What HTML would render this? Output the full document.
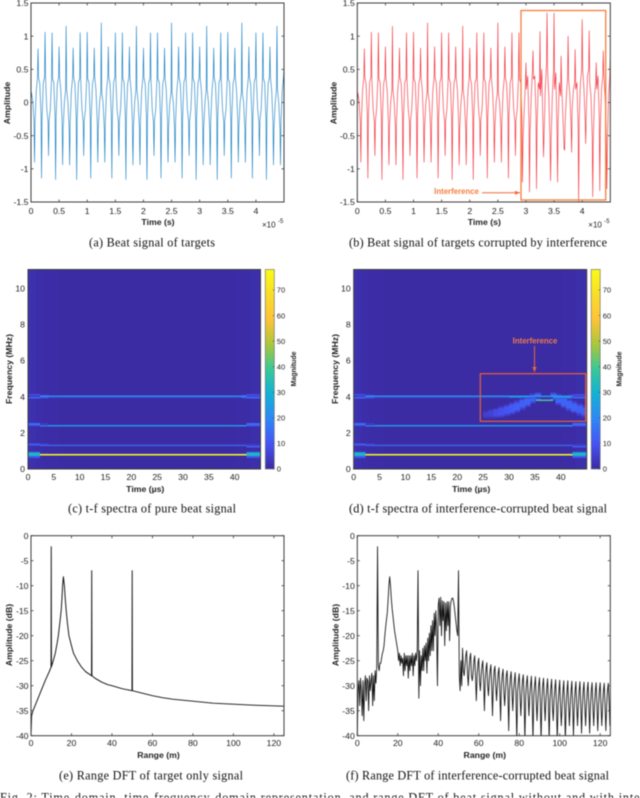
<!DOCTYPE html>
<html lang="en">
<head>
<meta charset="utf-8">
<title>Beat signal figure</title>
<style>
html,body{margin:0;padding:0;background:#fff;width:640px;height:798px;overflow:hidden}
svg{display:block;filter:blur(0.45px)}
text{font-family:"Liberation Sans",sans-serif;fill:#222}
text.cap{font-family:"Liberation Serif",serif;fill:#111}
</style>
</head>
<body>
<svg id="figure" width="640" height="798" viewBox="0 0 640 798" xmlns="http://www.w3.org/2000/svg"></svg>
<script>
// ---------- chart data ----------
const signalHalfPeriodSeconds = 0.625e-6;
const halfPeriodSampleFractions = [0,.14,.5,.86];
const cleanSignal = [
0,.15,.02,-.3,-.9,-.3,.18,.38,
.81,.38,.28,-.2,-1.14,-.25,.3,.38,
1.06,.36,-.1,-.3,-.8,-.28,-.1,.36,
1.05,.36,.3,-.25,-1.16,-.22,.28,.38,
.84,.38,.18,-.3,-.94,-.4,0,.2,
1.15,.2,0,-.4,-.94,-.3,.18,.38,
.82,.38,.28,-.22,-1.16,-.25,.3,.36,
1.05,.36,-.1,-.3,-.8,-.28,-.1,.36,
1.06,.36,.3,-.25,-1.14,-.22,.28,.38,
.82,.38,.18,-.3,-.9,-.4,0,.15,
1.2,.15,0,-.4,-.9,-.3,.18,.38,
.84,.38,.28,-.2,-1.14,-.25,.3,.38,
1.05,.36,-.1,-.3,-.8,-.28,-.1,.36,
1.05,.36,.3,-.25,-1.16,-.22,.28,.38,
.84,.38,.18,-.3,-.94,-.4,0,.2,
1.15,.2,0,-.4,-.94,-.3,.18,.38,
.82,.38,.28,-.22,-1.16,-.25,.3,.36,
1.05,.36,-.1,-.3,-.8,-.28,-.1,.36,
1.05,.36,.3,-.25,-1.14,-.22,.28,.38,
.82,.38,.18,-.3,-.9,-.4,0,.15,
1.2,.15,0,-.4,-.9,-.3,.18,.38,
.84,.38,.28,-.2,-1.14,-.25,.3,.38,
1.05,.36,-.1,-.3,-.8,-.28,-.1,.36,
1.05,.36,.3,-.25,-1.16,-.22,.28,.38,
.84,.38,.18,-.3,-.94,-.4,0,.2,
1.15,.2,0,-.4,-.94,-.3,.18,.38,
.82,.38,.28,-.22,-1.16,-.25,.3,.36,
1.05,.36,-.1,-.3,-.8,-.28,-.1,.36,
1.06,.36,.3,-.25,-1.14,-.22,.28,.38,
.82,.38,.18,-.3,-.9,-.4,0,.15,
1.2,.15,0,-.4,-.9,-.3,.18,.38,
.84,.38,.28,-.2,-1.14,-.25,.3,.38,
1.05,.36,-.1,-.3,-.8,-.28,-.1,.36,
1.05,.36,.3,-.25,-1.16,-.22,.28,.38,
.84,.38,.18,-.3,-.94,-.4,0,.2,
1.15,.2,0,-.4,-.94,-.3,.18,.38,
.6];
const cleanHeadForCorrupted = cleanSignal.slice(0,188);
const interferenceTail = [
-1.2,-.6,-.1,.3,.6,.2,.4,-.3,
-1.35,-.5,.1,.5,.78,.35,.4,-.2,
-1.3,-.4,.3,.2,1.07,.1,.5,-.4,
-.82,-.5,.2,.6,1.35,.5,.1,-.6,
-1.18,-.6,.1,.5,1.35,.2,.45,-.5,
-1.2,-.3,.3,.1,.7,.3,-.2,-.7,
-.72,-.3,.1,.4,1.0,.35,.1,-.4,
-.75,-.1,.2,.3,.8,.2,.3,-.4,
-1.5,-.3,.3,.5,1.25,.5,.2,-.3,
-.62,-.2,.4,.5,1.08,.3,.1,-.5,
-1.42,-.6,.1,.3,.6,.2,.4,-.2,
-1.33,-.4,.2,.4,.78,.45,.1,-.5,
-1.3,-.7,.1,.4,.7];
const amplitudeTicks = [-1.5,-1,-.5,0,.5,1,1.5];
const amplitudeTickLabels = ['-1.5','-1','-0.5','0','0.5','1','1.5'];
const timeTicks = [0,.5,1,1.5,2,2.5,3,3.5,4];
const timeTickLabels = ['0','0.5','1','1.5','2','2.5','3','3.5','4'];

const spectTimeTicks = [0,5,10,15,20,25,30,35,40];
const spectFreqTicks = [0,2,4,6,8,10];
const colorbarTicks = [0,10,20,30,40,50,60,70];
const backgroundTimes = [0,.6,1.5,3,6,40,43,45];
const backgroundMags = [2,1.4,.9,.6,.4,.6,1.2];
const ridgeTimeEdges = [0,2.3,4,41.3,42.3,45];
const ridgeFreqLow  = [.62,.72,.76,.84,.92,1.18,1.26,1.34,2.34,2.42,3.9,3.98,4.06];
const ridgeFreqHigh = [.72,.76,.84,.92,.98,1.26,1.34,1.42,2.44,2.54,3.98,4.06,4.14];
const ridgeMagsPure = [
[10,1,1,1,10],[32,1,1,1,32],[32,78,78,78,32],[32,3,2,3,32],[8,1,1,1,8],
[1,1,1,1,12],[6,14,16,16,5],[12,6,2,2,3],
[4,22,22,22,8],[14,4,1,1,14],
[14,8,3,8,14],[4,22,22,22,6],[8,3,1,3,8]];
const chirpTimes = [25,26,27,28,29,30,31,32,33,34,35,38,39,40,41,42,43,44];
const chirpFreqs = [3.02,3.06,3.1,3.17,3.25,3.35,3.45,3.6,3.75,3.9,4.0,4.0,3.85,3.7,3.55,3.42,3.3,3.2];
const chirpMags  = [5,6,8,9,10,11,12,12,13,13,14,14,13,13,13,13,12,12];
const chirpWidths= [.2,.24,.26,.28,.3,.3,.3,.3,.3,.25,.2,.2,.28,.3,.3,.3,.3,.3];
const chirpLineTimes = [30,34,35.2,38.5,42];
const chirpLineFreqs = [4.0,3.94,3.8,3.96];
const chirpLineMags  = [24,8,40,24];

const rangeTicks = [0,20,40,60,80,100,120];
const dbTicks = [0,-5,-10,-15,-20,-25,-30,-35,-40];
const targetRanges = [0,.3,1,2,3,5,7,9,9.9,10,10.1,11,12,13,13.5,14,14.5,14.9,15.3,15.6,16,16.5,16.9,17.4,18,18.75,20,21,22.9,25,27,29.9,30,30.1,32,35,38,40,45,49.9,50,50.1,55,60,65,70,80,90,100,110,125];
const targetDb = [-40,-36,-35,-34,-33,-31,-29,-27.2,-26.3,-2.2,-26.2,-25,-23.5,-21.3,-20,-18.3,-16.5,-15,-12.5,-10,-8.2,-10,-12.5,-15,-17.5,-20,-22,-23.5,-25,-26.3,-27.2,-28,-7,-28,-28.6,-29.3,-29.8,-30,-30.6,-31,-7,-31,-31.5,-32,-32.4,-32.7,-33.1,-33.5,-33.7,-33.9,-34.1];
const corruptedRangeStep = 0.4;
const corruptedDb = [
-40,-31,-29,-34,-28.5,-31,-36,-29,-37,-30,-28,-33,-28.5,-29,-35,-28,-31,-29,-27.5,-34,-28,-33,-27,-29.5,-26.5,
-2.2,
-26,-27,-25.5,-25.5,-24.5,-23.5,-23,-22,-20,-18.3,-16.8,-15.5,-13,-10,
-8.2,
-10,-12.5,-14.5,-16,-17.5,-19,-20,-21,-22,-23,-25,-23.5,-26,-24,-25.5,-24.5,-28,-23.5,-27,-24,-26,-24,-28.5,-24,-27,-24,-26,-23.5,-28,-24,-26,-23.5,-25,-23,
-7,
-32.5,-23,-30,-24,-27,-22.5,-27,-22,-25,-21.5,-27.5,-20.5,-25,-19.5,-24,-18,-23,-17,-23,-15.5,-20,-15,-19,-30,-14,-12.5,-18,-12.3,-20,-13,-17,-13.2,-22,-13.5,-19,-13.2,-18,-13.2,-21,-14,-13,-12.5,-12.5,-13.2,-14.5,-16,-17.5,-19,-20,
-7,
-28,-31,-25,-30,
-22.5,-27,-28,-26,-24,
-23,-27,-30,-27,-24.5,
-23.5,-28,-29,-27.5,-25,
-24,-28,-33,-28,-25.5,
-24.5,-29,-31,-28,-26,
-25,-29,-35,-29,-26.5,
-25.4,-30,-32,-29,-27,
-25.8,-30,-36,-30,-27,
-26.1,-30,-33,-30,-27.5,
-26.4,-31,-37,-30,-28,
-26.7,-31,-34,-31,-28,
-27,-31,-39,-31,-28.5,
-27.2,-31,-35,-31,-29,
-27.4,-32,-41,-31,-29,
-27.6,-32,-36,-32,-29,
-27.8,-32,-41,-32,-29.5,
-28,-32,-36,-32,-30,
-28.1,-33,-41,-32,-30,
-28.2,-33,-37,-33,-30,
-28.4,-33,-41,-33,-30,
-28.5,-33,-37,-33,-30.5,
-28.6,-33,-41,-33,-30.5,
-28.7,-34,-37,-33,-30.5,
-28.8,-34,-41,-34,-31,
-28.9,-34,-38,-34,-31,
-29,-34,-41,-34,-31,
-29,-34,-38,-34,-31,
-29.1,-34,-40,-34,-31,
-29.2,-34,-38,-34,-31,
-29.2,-34,-39.5,-34,-31,
-29.3,-34,-38,-34,-31,
-29.3,-34,-39.5,-34,-31,
-29.4,-34,-38,-34,-31,
-29.4,-34,-39,-34,-31,
-29.4,-34,-38,-34,-31,
-29.5,-34,-39,-34,-31,
-29.5,-33,-38,-29.5];

const parulaStops = ['#3B2AA0','#4752F4','#2D87F7','#12B1D6','#37C897','#ABC739','#FEC338','#F9DD28','#F9FB15'];
const colorMax = 78;

// ---------- helpers ----------
const root = document.getElementById('figure');
const NS = 'http://www.w3.org/2000/svg';
function add(parent, tag, attrs, name){
  const el = document.createElementNS(NS, tag);
  for(const k in attrs) el.setAttribute(k, attrs[k]);
  
  
  parent.appendChild(el);
  return el;
}
function label(parent, x, y, str, name, o){
  o = o || {};
  const size = o.size || 8.7;
  const a = {x:x, y:y + size*0.36, 'font-size':size, 'text-anchor':o.anchor||'middle'};
  if(o.weight) a['font-weight'] = o.weight;
  if(o.fill) a.style = 'fill:'+o.fill;
  if(o.rotate){ a.y = y; a.transform = 'rotate(-90 '+x+' '+y+')'; a.dy = size*0.36; }
  const t = add(parent, 'text', a, name);
  t.textContent = str;
  return t;
}
function caption(x, y, width, str, name){
  const t = add(root, 'text', {class:'cap', x:x, y:y, 'font-size':12.2, textLength:width, lengthAdjust:'spacing'}, name);
  t.textContent = str;
}
function hex(c){ return [1,3,5].map(function(i){return parseInt(c.substr(i,2),16);}); }
function parula(v){
  const f = Math.max(0, Math.min(1, v/colorMax)) * (parulaStops.length-1);
  const i = Math.min(parulaStops.length-2, Math.floor(f));
  const a = hex(parulaStops[i]), b = hex(parulaStops[i+1]), t = f-i;
  return 'rgb('+a.map(function(c,j){return Math.round(c+(b[j]-c)*t);}).join(',')+')';
}
function makePanel(id, box, xlim, ylim){
  const g = add(root, 'g', {}, id);
  const sx = function(v){ return box.x + (v-xlim[0])/(xlim[1]-xlim[0])*box.w; };
  const sy = function(v){ return box.y + box.h - (v-ylim[0])/(ylim[1]-ylim[0])*box.h; };
  const clip = add(g, 'clipPath', {id:'clip-'+id}, id+'-clip');
  add(clip, 'rect', {x:box.x, y:box.y, width:box.w, height:box.h}, id+'-clip-rect');
  return {g:g, sx:sx, sy:sy, box:box, id:id};
}
function frame(p, xticks, xlabels, yticks, ylabels, xTickY, yTickX, tickSize, opposite){
  const b = p.box, g = p.g;
  add(g, 'rect', {x:b.x, y:b.y, width:b.w, height:b.h, fill:'none', stroke:'#3c3c3c', 'stroke-width':1}, 'plot-frame');
  xticks.forEach(function(v,i){
    add(g, 'line', {x1:p.sx(v), x2:p.sx(v), y1:b.y+b.h, y2:b.y+b.h-tickSize, stroke:'#3c3c3c', 'stroke-width':.8}, 'x-tick');
    if(opposite) add(g, 'line', {x1:p.sx(v), x2:p.sx(v), y1:b.y, y2:b.y+tickSize, stroke:'#3c3c3c', 'stroke-width':.8}, 'x-tick-top');
    label(g, p.sx(v), xTickY, xlabels[i], 'x-tick-label');
  });
  yticks.forEach(function(v,i){
    add(g, 'line', {x1:b.x, x2:b.x+tickSize, y1:p.sy(v), y2:p.sy(v), stroke:'#3c3c3c', 'stroke-width':.8}, 'y-tick');
    if(opposite) add(g, 'line', {x1:b.x+b.w, x2:b.x+b.w-tickSize, y1:p.sy(v), y2:p.sy(v), stroke:'#3c3c3c', 'stroke-width':.8}, 'y-tick-right');
    label(g, yTickX, p.sy(v), ylabels[i], 'y-tick-label', {anchor:'end'});
  });
}
function polyline(p, xs, ys, color, width, name){
  const pts = xs.map(function(x,i){ return p.sx(x).toFixed(2)+','+p.sy(ys[i]).toFixed(2); }).join(' ');
  add(p.g, 'polyline', {points:pts, fill:'none', stroke:color, 'stroke-width':width, 'stroke-linejoin':'round', 'clip-path':'url(#clip-'+p.id+')'}, name);
}
function cell(p, t0, t1, f0, f1, mag, name){
  add(p.g, 'rect', {x:p.sx(t0), width:p.sx(t1)-p.sx(t0), y:p.sy(f1), height:p.sy(f0)-p.sy(f1), fill:parula(mag), 'shape-rendering':'crispEdges', 'clip-path':'url(#clip-'+p.id+')'}, name);
}
function signalPanel(id, box, values, color){
  const p = makePanel(id, box, [0,4.5e-5], [-1.5,1.5]);
  const times = values.map(function(_,i){
    return (Math.floor(i/4) + halfPeriodSampleFractions[i%4]) * signalHalfPeriodSeconds;
  });
  polyline(p, times, values, color, .6, 'signal-line');
  frame(p, timeTicks.map(function(v){return v*1e-5;}), timeTickLabels, amplitudeTicks, amplitudeTickLabels, 211, box.x-2.5, 2.5, true);
  label(p.g, box.x+box.w/2+.5, 222, 'Time (s)', 'x-axis-title', {weight:'bold', size:8.7});
  label(p.g, box.x-24, 103, 'Amplitude', 'y-axis-title', {rotate:true, weight:'bold', size:8.7});
  label(p.g, box.x+231, 224.5, '×10', 'axis-exponent-base', {anchor:'start', size:8});
  label(p.g, box.x+247, 221, '-5', 'axis-exponent-power', {anchor:'start', size:6});
  return p;
}
function spectPanel(id, box, cbX, withChirp){
  const p = makePanel(id, box, [0,45], [0,11.04]);
  for(let i=0;i<backgroundMags.length;i++){
    cell(p, backgroundTimes[i], backgroundTimes[i+1], 0, 11.04, backgroundMags[i], 'spectrogram-background-cell');
  }
  if(withChirp){
    chirpTimes.forEach(function(t,i){
      const w = chirpWidths[i];
      cell(p, t, t+1.15, chirpFreqs[i]-w*1.1, chirpFreqs[i]+w*1.1, chirpMags[i]*.45, 'interference-chirp-halo-cell');
    });
    chirpTimes.forEach(function(t,i){
      const w = chirpWidths[i];
      cell(p, t, t+1.15, chirpFreqs[i]-w*.7, chirpFreqs[i]+w*.7, chirpMags[i], 'interference-chirp-cell');
    });
  }
  ridgeFreqLow.forEach(function(f0,r){
    for(let c=0;c<ridgeTimeEdges.length-1;c++){
      const m = ridgeMagsPure[r][c];
      if(m>1) cell(p, ridgeTimeEdges[c], ridgeTimeEdges[c+1], f0, ridgeFreqHigh[r], m, 'spectrogram-ridge-cell');
    }
  });
  if(withChirp){
    chirpLineMags.forEach(function(m,i){
      cell(p, chirpLineTimes[i], chirpLineTimes[i+1], chirpLineFreqs[i]-.04, chirpLineFreqs[i]+.04, m, 'interference-crossing-cell');
    });
  }
  frame(p, spectTimeTicks, spectTimeTicks.map(String), spectFreqTicks, spectFreqTicks.map(String), 476.7, box.x-3, 2.2, false);
  label(p.g, box.x+box.w/2+1, 488.8, 'Time (µs)', 'x-axis-title', {weight:'bold', size:8.7});
  label(p.g, box.x-19, 369, 'Frequency (MHz)', 'y-axis-title', {rotate:true, weight:'bold', size:8.7});
  // colorbar
  const cb = makePanel(id+'-colorbar', {x:cbX, y:box.y, w:9, h:box.h}, [0,1], [0,colorMax]);
  for(let v=0;v<colorMax;v++){
    cell(cb, 0, 1, v, v+1.1, v+.5, 'colorbar-cell');
  }
  add(cb.g, 'rect', {x:cbX, y:box.y, width:9, height:box.h, fill:'none', stroke:'#777', 'stroke-width':.7}, 'colorbar-frame');
  colorbarTicks.forEach(function(v){
    add(cb.g, 'line', {x1:cbX+9, x2:cbX+7.5, y1:cb.sy(v), y2:cb.sy(v), stroke:'#444', 'stroke-width':.6}, 'colorbar-tick');
    label(cb.g, cbX+11.5, cb.sy(v), String(v), 'colorbar-tick-label', {anchor:'start', size:7.6});
  });
  label(cb.g, cbX+28, 369, 'Magnitude', 'colorbar-title', {rotate:true, weight:'bold', size:7});
  return p;
}
function dftPanel(id, box, xs, ys, width){
  const p = makePanel(id, box, [0,125], [-40,0]);
  polyline(p, xs, ys, '#111', width, 'dft-line');
  frame(p, rangeTicks, rangeTicks.map(String), dbTicks, dbTicks.map(String), 743, box.x-2.5, 2.5, true);
  label(p.g, box.x+box.w/2+1, 755, 'Range (m)', 'x-axis-title', {weight:'bold', size:8.7});
  label(p.g, box.x-22, 635, 'Amplitude (dB)', 'y-axis-title', {rotate:true, weight:'bold', size:8.7});
  return p;
}
function arrow(x1, y1, x2, y2, color, name){
  add(root, 'line', {x1:x1, y1:y1, x2:x2, y2:y2, stroke:color, 'stroke-width':1}, name);
  const h = add(root, 'polygon', {fill:color}, name+'-head');
  if(y1===y2) h.setAttribute('points', x2+','+y2+' '+(x2-5)+','+(y2-2)+' '+(x2-5)+','+(y2+2));
  else h.setAttribute('points', x2+','+y2+' '+(x2-2.2)+','+(y2-5)+' '+(x2+2.2)+','+(y2-5));
}

// ---------- panels ----------
const topRowY = 3, topRowH = 199;
signalPanel('panel-a', {x:31,y:topRowY,w:253,h:topRowH}, cleanSignal, '#0b78c2');
signalPanel('panel-b', {x:357.3,y:topRowY,w:253,h:topRowH}, cleanHeadForCorrupted.concat(interferenceTail), '#f5222d');
spectPanel('panel-c', {x:28,y:269.5,w:232.5,h:199.5}, 265.3, false);
spectPanel('panel-d', {x:353.7,y:269.5,w:233,h:199.5}, 591.2, true);
dftPanel('panel-e', {x:31,y:535.7,w:253,h:200}, targetRanges, targetDb, .95);
dftPanel('panel-f', {x:357.3,y:535.7,w:253,h:200}, corruptedDb.map(function(_,i){return i*corruptedRangeStep;}), corruptedDb, .85);

// ---------- annotations ----------
add(root, 'rect', {x:521, y:10.5, width:84.7, height:189.5, fill:'none', stroke:'#f57c3c', 'stroke-width':1.3}, 'interference-box-time');
label(root, 456.5, 191.3, 'Interference', 'interference-label-time', {weight:'bold', size:7.8, fill:'#f57c3c'});
arrow(482, 192.8, 520, 192.8, '#f26a3a', 'interference-arrow-time');
add(root, 'rect', {x:480.3, y:373.7, width:105.4, height:47.6, fill:'none', stroke:'#e8603a', 'stroke-width':1.2}, 'interference-box-spectrum');
label(root, 535, 340.7, 'Interference', 'interference-label-spectrum', {weight:'bold', size:7.8, fill:'#f07a4a'});
arrow(534.5, 346, 534.5, 372, '#e8653a', 'interference-arrow-spectrum');

// ---------- captions ----------
caption(89, 246.5, 126, '(a) Beat signal of targets', 'caption-a');
caption(349, 246.5, 258, '(b) Beat signal of targets corrupted by interference', 'caption-b');
caption(68, 512.5, 168, '(c) t-f spectra of pure beat signal', 'caption-c');
caption(349, 512.5, 258, '(d) t-f spectra of interference-corrupted beat signal', 'caption-d');
caption(59, 779.5, 184, '(e) Range DFT of target only signal', 'caption-e');
caption(346, 779.5, 263, '(f) Range DFT of interference-corrupted beat signal', 'caption-f');
const figCap = add(root, 'text', {class:'cap', x:0, y:801.5, 'font-size':12.2, textLength:690, lengthAdjust:'spacing'}, 'figure-caption');
figCap.textContent = 'Fig. 2: Time-domain, time-frequency-domain representation, and range DFT of beat signal without and with interference.';
</script>
</body>
</html>
